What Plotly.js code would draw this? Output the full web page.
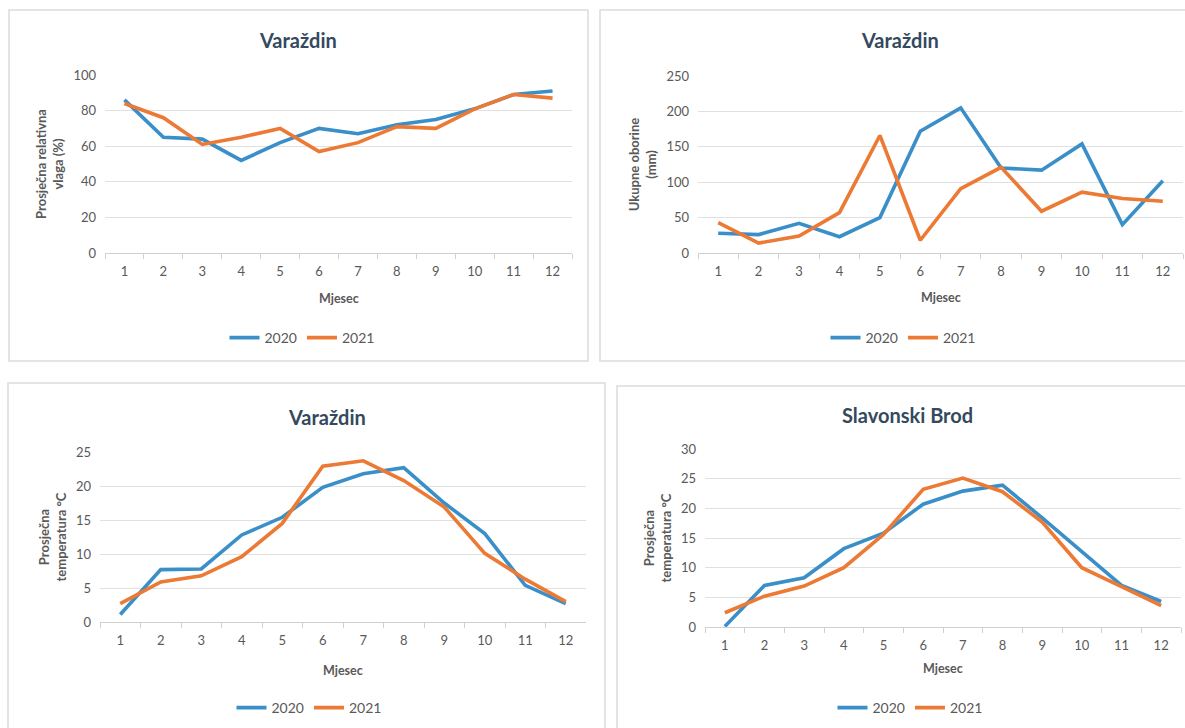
<!DOCTYPE html>
<html>
<head>
<meta charset="utf-8">
<script src="https://cdn.plot.ly/plotly-3.0.1.min.js"></script>
<style>
html,body{margin:0;padding:0;background:#fff;}
#chart{width:1185px;height:728px;}
</style>
</head>
<body>
<div id="chart"></div>
<script>
// ---- data ----
const months = ['1','2','3','4','5','6','7','8','9','10','11','12'];
const seriesNames = ['2020', '2021'];
const titles = ['Varaždin', 'Varaždin', 'Varaždin', 'Slavonski Brod'];
const yTitles = ['Prosječna relativna<br>vlaga (%)', 'Ukupne oborine<br>(mm)', 'Prosječna<br>temperatura °C', 'Prosječna<br>temperatura °C'];
const xTitle = 'Mjesec';

const humidity2020 = [86, 65, 64, 52, 62, 70, 67, 72, 75, 81, 89, 91];
const humidity2021 = [84, 76, 61, 65, 70, 57, 62, 71, 70, 81, 89, 87];

const rain2020 = [28, 26, 42, 23, 50, 172, 205, 120, 117, 154, 40, 102];
const rain2021 = [43, 14, 24, 57, 166, 18, 91, 121, 59, 86, 77, 73];

const tempVz2020 = [1.1, 7.7, 7.8, 12.8, 15.4, 19.8, 21.8, 22.7, 17.5, 13.0, 5.4, 2.7];
const tempVz2021 = [2.7, 5.9, 6.8, 9.6, 14.5, 22.9, 23.7, 20.8, 16.9, 10.1, 6.3, 3.0];

const tempSB2020 = [0.1, 7.0, 8.3, 13.2, 15.8, 20.7, 22.9, 23.9, 18.4, 12.7, 7.0, 4.3];
const tempSB2021 = [2.4, 5.2, 6.9, 10.0, 15.6, 23.2, 25.1, 22.8, 17.7, 10.0, 6.8, 3.6];

const yRanges = [[0, 100], [0, 250], [0, 25], [0, 30]];
const yDticks = [20, 50, 5, 5];

// ---- layout helpers (pixels -> paper) ----
const W = 1185, H = 728;
const px = x => x / W;
const py = y => 1 - y / H;

const colors = ['#3A8FC8', '#EC7A34'];
const FONT = 'Lato, "Open Sans", sans-serif';

// plot areas [x0, x1, yTop, yBottom]
const plots = [
  [105, 572, 75, 253],
  [698, 1183, 76, 253],
  [100, 586, 452, 622],
  [705, 1181, 449, 627]
];
// panel frames
const frames = [
  [9, 588, 10, 361],
  [600, 1195, 10, 361],
  [8, 605, 383, 740],
  [617, 1195, 386, 740]
];
const titlePos = [[298, 40], [900, 40], [327, 417], [907, 415]];
const legendPos = [[302, 338], [903, 338], [309, 708], [910, 708]];
const xTitlePos = [298, 297, 670, 668];

const dataSets = [
  [humidity2020, humidity2021],
  [rain2020, rain2021],
  [tempVz2020, tempVz2021],
  [tempSB2020, tempSB2021]
];

const traces = [];
const layout = {
  width: W, height: H,
  margin: {l: 0, r: 0, t: 0, b: 0},
  paper_bgcolor: '#ffffff',
  plot_bgcolor: 'rgba(0,0,0,0)',
  font: {family: FONT, color: '#595959', size: 13},
  shapes: [],
  annotations: []
};

dataSets.forEach((pair, i) => {
  const n = i + 1;
  const xa = n === 1 ? 'x' : 'x' + n;
  const ya = n === 1 ? 'y' : 'y' + n;
  const legName = n === 1 ? 'legend' : 'legend' + n;
  pair.forEach((vals, k) => {
    traces.push({
      type: 'scatter', mode: 'lines',
      x: months, y: vals,
      name: seriesNames[k],
      xaxis: xa, yaxis: ya,
      legend: legName,
      line: {color: colors[k], width: 3.6, shape: 'linear'},
      hoverinfo: 'x+y+name'
    });
  });
  const p = plots[i];
  layout['xaxis' + (n === 1 ? '' : n)] = {
    type: 'category',
    domain: [px(p[0]), px(p[1])],
    range: [-0.5, months.length - 0.5],
    anchor: ya,
    showgrid: false,
    showline: true, linecolor: '#d0d0d0', linewidth: 1,
    ticks: 'outside', tickson: 'boundaries', ticklen: 5, tickcolor: '#d0d0d0',
    tickfont: {family: FONT, size: 13, color: '#595959'},
    ticklabelstandoff: 6,
    zeroline: false,
    fixedrange: true,
    title: {text: ''}
  };
  layout['yaxis' + (n === 1 ? '' : n)] = {
    domain: [py(p[3]), py(p[2])],
    anchor: xa,
    range: yRanges[i],
    dtick: yDticks[i],
    showgrid: true, gridcolor: '#e0e0e0', gridwidth: 1,
    zeroline: false, showline: false,
    ticks: '',
    tickfont: {family: FONT, size: 13, color: '#595959'},
    ticklabelstandoff: 8,
    fixedrange: true,
    title: {text: yTitles[i], font: {family: FONT, size: 13, color: '#595959', weight: 'bold'}, standoff: 6}
  };
  layout[legName] = {
    orientation: 'h',
    x: px(legendPos[i][0]), y: py(legendPos[i][1]),
    xanchor: 'center', yanchor: 'middle',
    font: {family: FONT, size: 14, color: '#595959'},
    bgcolor: 'rgba(0,0,0,0)',
    itemwidth: 30,
    tracegroupgap: 0,
    traceorder: 'normal'
  };
  const f = frames[i];
  layout.shapes.push({
    type: 'rect', xref: 'paper', yref: 'paper', layer: 'below',
    x0: px(f[0]), x1: px(f[1]), y0: py(f[3]), y1: py(f[2]),
    line: {color: '#dcdcdc', width: 1.5}, fillcolor: '#ffffff'
  });
  layout.annotations.push({
    xref: 'paper', yref: 'paper', x: px(titlePos[i][0]), y: py(titlePos[i][1]),
    xanchor: 'center', yanchor: 'middle', showarrow: false,
    text: '<b>' + titles[i] + '</b>',
    font: {family: FONT, size: 20, color: '#34495E'}
  });
  layout.annotations.push({
    xref: 'paper', yref: 'paper', x: px((p[0] + p[1]) / 2), y: py(xTitlePos[i]),
    xanchor: 'center', yanchor: 'middle', showarrow: false,
    text: '<b>' + xTitle + '</b>',
    font: {family: FONT, size: 12.5, color: '#595959'}
  });
});

Plotly.newPlot('chart', traces, layout, {displayModeBar: false, staticPlot: true});
</script>
</body>
</html>
